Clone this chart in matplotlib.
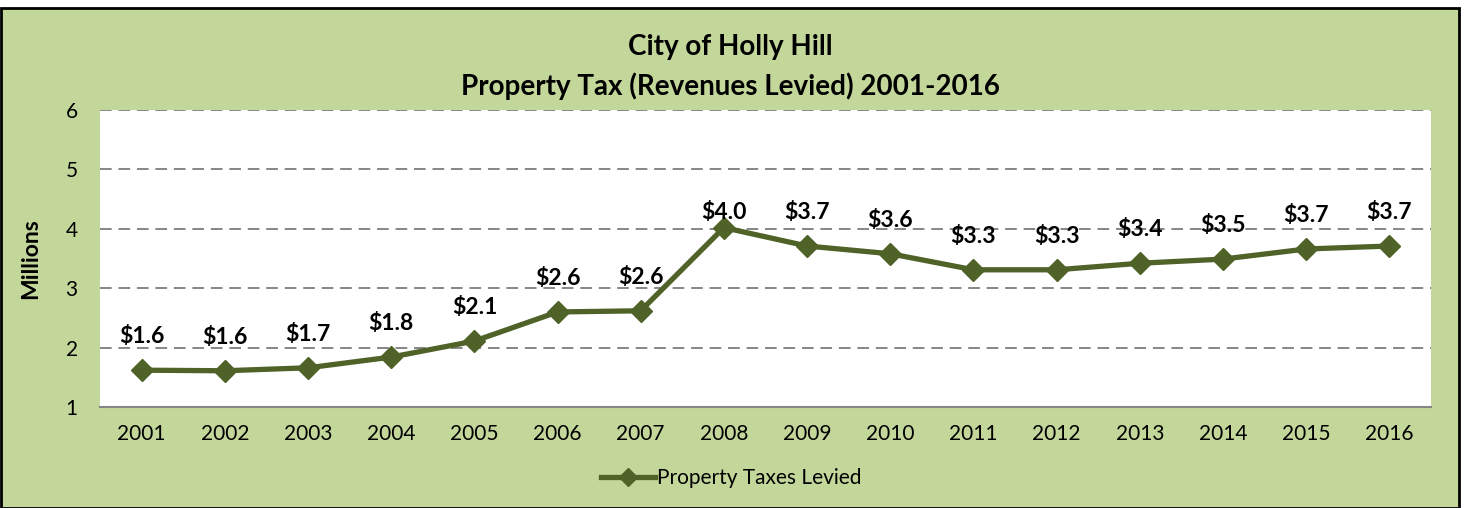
import matplotlib
matplotlib.use("Agg")
import matplotlib.pyplot as plt
from matplotlib.patches import Rectangle
from matplotlib.lines import Line2D

years = ["2001", "2002", "2003", "2004", "2005", "2006", "2007", "2008",
         "2009", "2010", "2011", "2012", "2013", "2014", "2015", "2016"]
taxes = [1.62, 1.61, 1.66, 1.84, 2.11, 2.60, 2.62, 4.02,
         3.71, 3.58, 3.31, 3.31, 3.42, 3.49, 3.66, 3.71]
yticks = [1, 2, 3, 4, 5, 6]

W, H = 1473, 508
fig = plt.figure(figsize=(W / 100, H / 100), dpi=100)
fig.patch.set_facecolor("white")
plt.rcParams['font.family'] = ['Lato', 'DejaVu Sans']

GREEN_BG = "#C4D79B"
LINE = "#4F6228"

# chart area frame
fig.patches.append(Rectangle((1 / W, 0), 1458 / W, (H - 8) / H, transform=fig.transFigure,
                             facecolor=GREEN_BG, edgecolor="black", linewidth=2, zorder=-10))

left, right, top, bottom = 100, 1431, 110, 407
ax = fig.add_axes([left / W, 1 - bottom / H, (right - left) / W, (bottom - top) / H])
ax.set_zorder(1)
ax.set_facecolor("white")

x = list(range(len(years)))
ax.plot(x, taxes, color=LINE, linewidth=3.8, marker="D", markersize=11,
        markerfacecolor=LINE, markeredgecolor=LINE, zorder=3, clip_on=False)

for i, v in enumerate(taxes):
    off = 11 if i == 7 else 24
    ax.annotate(f"${v:.1f}", (i, v), xytext=(0, off), textcoords="offset points",
                ha="center", va="center", fontsize=16.5, fontweight="bold", color="black")

ax.set_xlim(-0.5, len(years) - 0.5)
ax.set_ylim(1, 6)
ax.set_yticks(yticks)
ax.set_xticks(x)
ax.set_xticklabels(years)
ax.tick_params(axis="both", length=0, labelsize=15, colors="black")
ax.tick_params(axis="x", pad=12)
ax.tick_params(axis="y", pad=16)
ax.yaxis.grid(True, color="#868686", linestyle=(0, (6, 3.5)), linewidth=1.4)
ax.set_axisbelow(True)
for s in ["top", "right", "left"]:
    ax.spines[s].set_visible(False)
ax.spines["bottom"].set_color("#868686")
ax.spines["bottom"].set_linewidth(1.5)

ax.set_ylabel("Millions", fontsize=16.5, fontweight="bold", labelpad=18)

fig.text(730 / W, 1 - 47 / H, "City of Holly Hill", ha="center", va="center",
         fontsize=20, fontweight="bold")
fig.text(730 / W, 1 - 86 / H, "Property Tax (Revenues Levied) 2001-2016", ha="center",
         va="center", fontsize=20, fontweight="bold")

handle = Line2D([], [], color=LINE, linewidth=3.8, marker="D", markersize=9)
fig.legend(handles=[handle], labels=["Property Taxes Levied"], loc="center",
           bbox_to_anchor=(731 / W, 1 - 478 / H), frameon=False, fontsize=15,
           handlelength=2.6, handletextpad=0.1)

fig.savefig("out.png", dpi=100)
